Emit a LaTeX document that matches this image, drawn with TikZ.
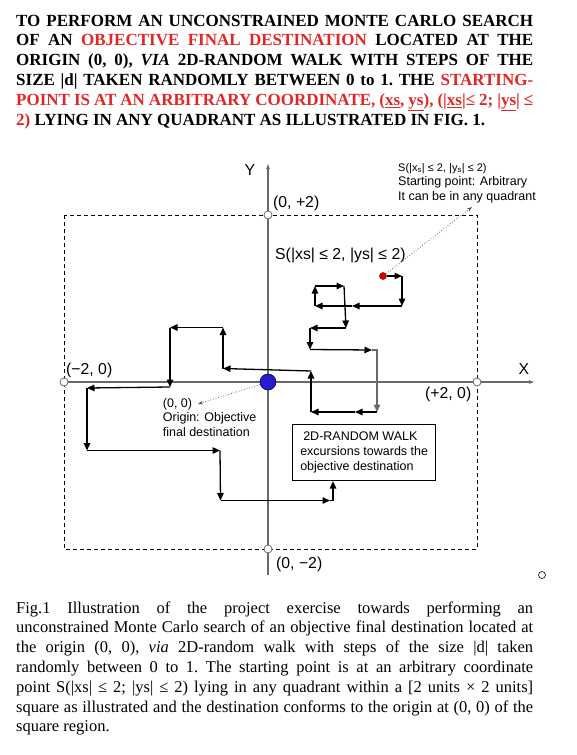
\documentclass[tikz,border=0pt]{standalone}
\usepackage{fontspec}
\setmainfont{Liberation Serif}
\setsansfont{Liberation Sans}
\usetikzlibrary{arrows.meta}
\definecolor{headred}{RGB}{226,38,38}
\definecolor{axisgrey}{RGB}{105,105,105}
\definecolor{goalblue}{RGB}{40,28,205}
\tikzset{heading/.style={anchor=base west,inner sep=0pt,text width=517pt,align=justify,font=\fontsize{17}{19.8}\selectfont\bfseries\frenchspacing},
figcaption/.style={anchor=base west,inner sep=0pt,text width=517pt,align=justify,font=\fontsize{16.5}{19.8}\selectfont\frenchspacing},
lbl/.style={inner sep=0pt,font=\sffamily\fontsize{15.8}{18}\selectfont},
note/.style={inner sep=0pt,align=left,font=\sffamily\fontsize{12.5}{14.5}\selectfont},
walkbox/.style={draw,line width=0.8pt,minimum width=143pt,minimum height=56.4pt,inner sep=0pt,align=left,font=\sffamily\fontsize{12.5}{15}\selectfont},
axisline/.style={draw=axisgrey,line width=1.2pt},
ring/.style={draw=axisgrey,fill=white,circle,minimum size=8pt,inner sep=0pt,line width=0.8pt},
goal/.style={draw=blue!40!black,fill=goalblue,circle,minimum size=16pt,inner sep=0pt,line width=0.6pt},
startdot/.style={draw=red!50!black,fill=red!85!black,circle,minimum size=7pt,inner sep=0pt,line width=0.5pt},
walk/.style={line width=1.3pt,-{Triangle[length=7.5pt,width=6.5pt]}},
pointer/.style={dotted,line width=0.7pt,draw=black!70,-{Stealth[length=5pt,width=3.5pt]}}}

\begin{document}
\begin{tikzpicture}[x=1pt,y=-1pt]
\useasboundingbox (0,0) rectangle (576,755);
% heading and caption
\node[heading] (title) at (16,26) {TO PERFORM AN UNCONSTRAINED MONTE CARLO SEARCH\linebreak
OF AN \textcolor{headred}{OBJECTIVE FINAL DESTINATION} LOCATED AT THE\linebreak
ORIGIN (0, 0), \textit{VIA} 2D-RANDOM WALK WITH STEPS OF THE\linebreak
SIZE |d| TAKEN RANDOMLY BETWEEN 0 to 1. THE \textcolor{headred}{STARTING-}\linebreak
\textcolor{headred}{POINT IS AT AN ARBITRARY COORDINATE, (\underline{xs}, \underline{ys}), (|\underline{xs}|≤ 2; |\underline{ys}| ≤}\linebreak
\textcolor{headred}{2)} LYING IN ANY QUADRANT AS ILLUSTRATED IN FIG. 1.};
\node[figcaption] (caption) at (16,613) {Fig.1 Illustration of the project exercise towards performing an\linebreak
unconstrained Monte Carlo search of an objective final destination located at\linebreak
the origin (0, 0), \textit{via} 2D-random walk with steps of the size |d| taken\linebreak
randomly between 0 to 1. The starting point is at an arbitrary coordinate\linebreak
point S(|xs| ≤ 2; |ys| ≤ 2) lying in any quadrant within a [2 units × 2 units]\linebreak
square as illustrated and the destination conforms to the origin at (0, 0) of the\linebreak
square region.};
% square and axes
\draw[line width=0.8pt,dash pattern=on 4pt off 3pt] (64,215) rectangle (477,549);
\coordinate (ytip) at (268,163); \coordinate (yfoot) at (268,575); \coordinate (xfoot) at (64,382); \coordinate (xtip) at (535,382);
\draw[axisline,-{Latex[length=6pt,width=4pt]}] (yfoot) -- (ytip);
\draw[axisline,-{Latex[length=6pt,width=4pt]}] (xfoot) -- (xtip);
\node[ring] (top) at (268,215) {}; \node[ring] (left) at (64,382) {};
\node[ring] (right) at (477,382) {}; \node[ring] (bottom) at (268,549) {};
\node[circle,draw,line width=0.6pt,minimum size=7pt,inner sep=0pt] (stray) at (542,575) {};
\node[lbl] (ylab) at (250,170) {Y}; \node[lbl] (xlab) at (524,369) {X};
\node[lbl,anchor=west] (toplab) at (273,203) {(0, +2)};
\node[lbl,anchor=west] (leftlab) at (66,370) {(−2, 0)};
\node[lbl,anchor=west] (rightlab) at (425,394) {(+2, 0)};
\node[lbl,anchor=west] (bottomlab) at (276,564) {(0, −2)};
\node[lbl,anchor=west] (slab) at (275,255) {S(|xs| ≤ 2, |ys| ≤ 2)};
% walk corners
\coordinate (w1) at (402,276); \coordinate (w2) at (402,306); \coordinate (w2a) at (352,306); \coordinate (w3) at (315,306);
\coordinate (w4) at (315,286); \coordinate (w5) at (344,286); \coordinate (w6) at (346,328); \coordinate (w7) at (310,328);
\coordinate (w8) at (310,349.5); \coordinate (w9) at (372,350); \coordinate (w10) at (377,350); \coordinate (w11) at (377,412);
\coordinate (w11a) at (355,412); \coordinate (w12) at (311,412); \coordinate (w13) at (311,371); \coordinate (w14) at (223,368.5);
\coordinate (w15) at (223,327.5); \coordinate (w16) at (170,327.5); \coordinate (w17) at (170,387); \coordinate (w18) at (87,388);
\coordinate (w19) at (87,450.5); \coordinate (w20) at (220,450.5); \coordinate (w21) at (220.5,500.5); \coordinate (w22) at (330,500.5);
\coordinate (w23) at (333,500.5);
\node[walkbox] (wb) at (364.2,452.5) {\hspace*{3pt}2D-RANDOM WALK\\excursions towards the\\objective destination};
\node[startdot] (s) at (383,276) {};
\node[goal] (o) at (268,382) {};
\draw[walk] (s) -- (w1);
\foreach \a/\b in {w1/w2,w2/w2a,w2a/w3,w3/w4,w4/w5,w5/w6,w6/w7,w7/w8,w8/w9,w11/w11a,w11a/w12,w12/w13,w13/w14,w14/w15,w15/w16,w16/w17,w17/w18,w18/w19,w19/w20,w20/w21,w21/w22}
  \draw[walk] (\a) -- (\b);
\draw[walk,draw=axisgrey] (w9) -- (w10) -- (w11);
\draw[line width=1.3pt] (w22) -- (w23);
\draw[walk] (w23) -- (w23 |- wb.south);
% notes
\node[note,anchor=north west] (snote) at (398,163) {{\fontsize{11}{12}\selectfont S(|x\textsubscript{s}| ≤ 2, |y\textsubscript{s}| ≤ 2)}\\Starting point: Arbitrary\\It can be in any quadrant};
\coordinate (sptr) at (472,207);
\draw[pointer] (s) -- (sptr);
\node[note,anchor=north west] (onote) at (162.7,398) {(0, 0)\\Origin: Objective\\final destination};
\coordinate (optr) at (198,404);
\draw[pointer] (o) -- (optr);
\end{tikzpicture}
\end{document}
